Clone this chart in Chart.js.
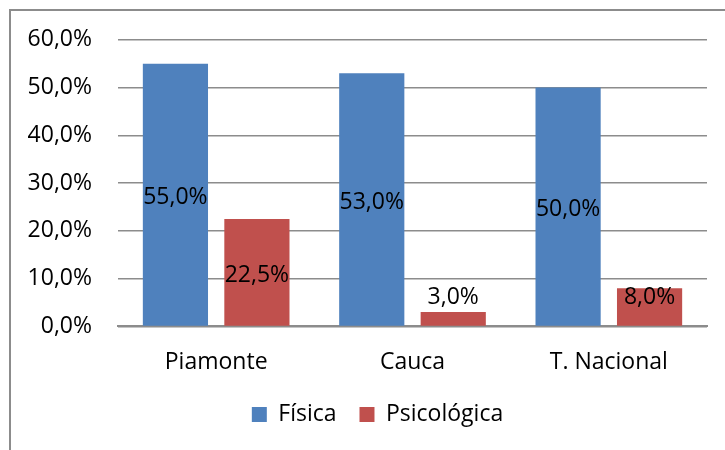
<!DOCTYPE html>
<html>
<head>
<meta charset="utf-8">
<script src="https://cdn.jsdelivr.net/npm/chart.js@4/dist/chart.umd.min.js"></script>
<style>
  html, body { margin: 0; padding: 0; background: #fff; overflow: hidden; }
  #wrap { position: relative; width: 725px; height: 450px; }
  #frame { position: absolute; left: 9px; top: 9px; width: 800px; height: 500px; border: 2px solid #8c8c8c; }
  canvas { position: absolute; left: 0; top: 0; }
</style>
</head>
<body>
<div id="wrap">
  <div id="frame"></div>
  <canvas id="myChart" width="725" height="450"></canvas>
</div>
<script>
// datos (porcentajes)
var categorias = ['Piamonte', 'Cauca', 'T. Nacional'];
var fisica = [55.0, 53.0, 50.0];
var psicologica = [22.5, 3.0, 8.0];

var FONT = '"Open Sans", sans-serif';
var TAM = 23;

function fmt(v) {
    return v.toFixed(1).replace('.', ',') + '%';
}

// etiquetas de datos dentro de las barras
var etiquetas = {
    id: 'etiquetas',
    afterDatasetsDraw: function(chart) {
        var ctx = chart.ctx;
        ctx.save();
        ctx.font = TAM + 'px ' + FONT;
        ctx.fillStyle = '#000';
        ctx.textAlign = 'center';
        ctx.textBaseline = 'middle';
        chart.data.datasets.forEach(function(ds, i) {
            chart.getDatasetMeta(i).data.forEach(function(bar, j) {
                var y = Math.min((bar.y + bar.base) / 2 + 3, bar.base - 28);
                ctx.fillText(fmt(ds.data[j]), bar.x, y);
            });
        });
        ctx.restore();
    }
};

// mover la leyenda un poco a la derecha, como en el original
var moverLeyenda = {
    id: 'moverLeyenda',
    afterLayout: function(chart) {
        if (chart.legend) {
            chart.legend.left += 24;
            chart.legend.right += 24;
        }
    }
};

var ctx = document.getElementById('myChart').getContext('2d');
new Chart(ctx, {
    type: 'bar',
    data: {
        labels: categorias,
        datasets: [
            { label: 'Física', data: fisica, backgroundColor: '#4F81BD' },
            { label: 'Psicológica', data: psicologica, backgroundColor: '#C0504D' }
        ]
    },
    options: {
        responsive: false,
        animation: false,
        categoryPercentage: 0.83,
        barPercentage: 0.8,
        layout: { padding: { top: 28, right: 18, bottom: 14, left: 0 } },
        plugins: {
            legend: {
                position: 'bottom',
                labels: {
                    font: { family: FONT, size: TAM },
                    color: '#000',
                    boxWidth: 15,
                    boxHeight: 15,
                    padding: 5,
                    generateLabels: function(chart) {
                        var items = Chart.defaults.plugins.legend.labels.generateLabels(chart);
                        // un poco más de espacio entre elementos
                        items[0].text = items[0].text + '   ';
                        return items;
                    }
                }
            },
            tooltip: { enabled: false }
        },
        scales: {
            x: {
                grid: { display: false, drawTicks: false },
                border: { color: '#8c8c8c', width: 2 },
                ticks: { font: { family: FONT, size: TAM }, color: '#000', padding: 22 }
            },
            y: {
                min: 0,
                max: 60,
                grid: { color: '#8c8c8c', lineWidth: 1.5, drawTicks: false },
                border: { display: false },
                ticks: {
                    stepSize: 10,
                    font: { family: FONT, size: TAM },
                    color: '#000',
                    padding: 26,
                    callback: function(v) { return fmt(v); }
                },
                afterFit: function(scale) { scale.width = 118; }
            }
        }
    },
    plugins: [etiquetas, moverLeyenda]
});
</script>
</body>
</html>
